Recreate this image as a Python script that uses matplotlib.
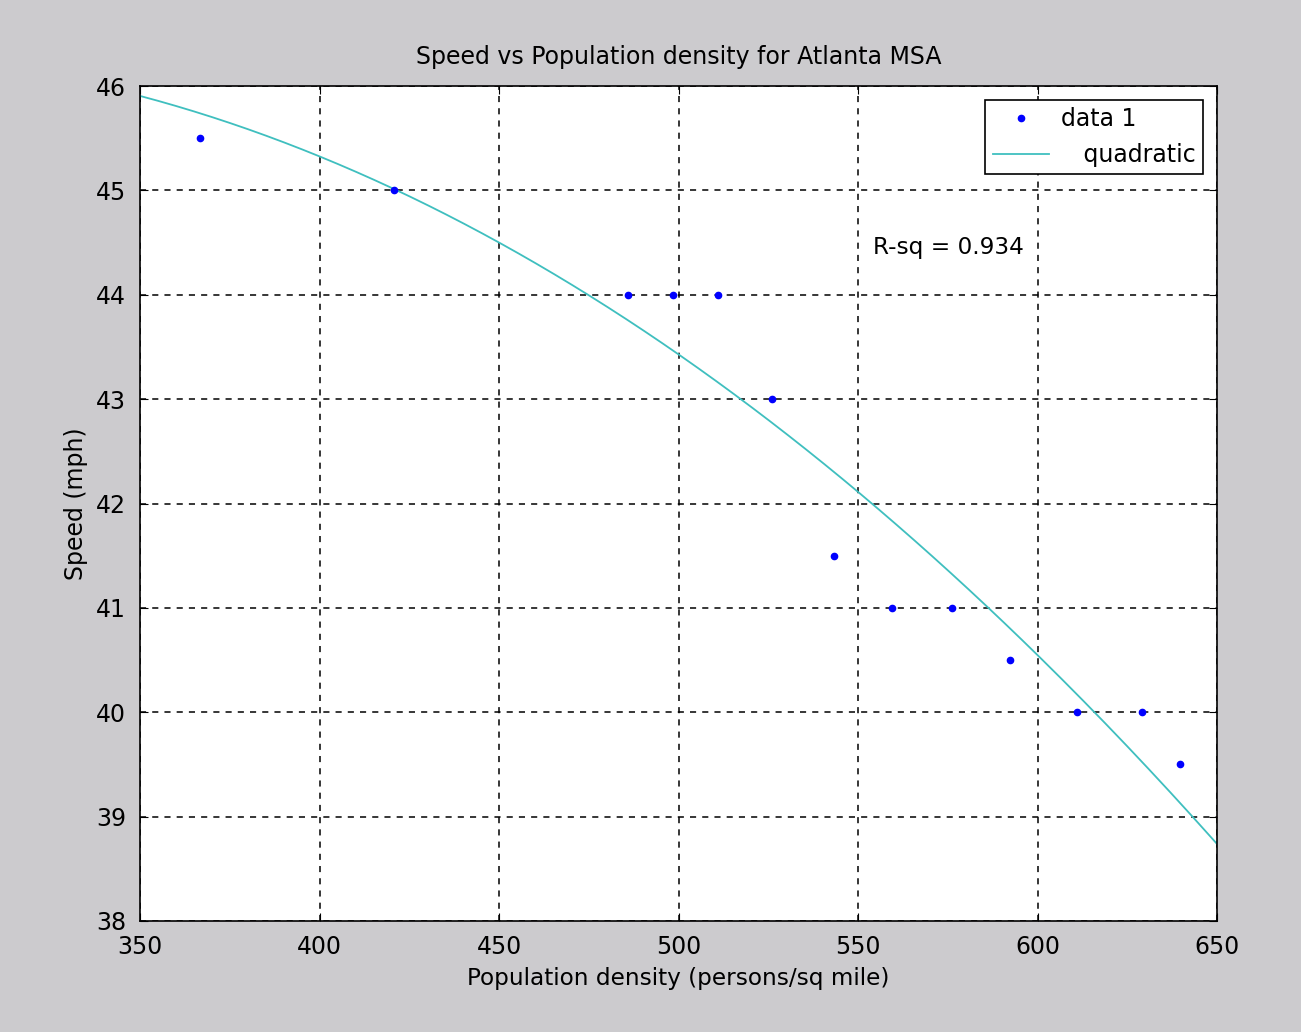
import numpy as np
import matplotlib
matplotlib.use('Agg')
from matplotlib import pyplot as plt

# data
density = [366.7, 420.8, 485.9, 498.5, 511.0, 526.0, 543.3, 559.5, 576.2, 592.3, 611.0, 629.0, 639.7]
speed = [45.5, 45.0, 44.0, 44.0, 44.0, 43.0, 41.5, 41.0, 41.0, 40.5, 40.0, 40.0, 39.5]

xticks = [350, 400, 450, 500, 550, 600, 650]
yticks = [38, 39, 40, 41, 42, 43, 44, 45, 46]

plt.rcParams['font.family'] = ['DejaVu Sans']

fig = plt.figure(figsize=(13.01, 10.32), dpi=100, facecolor='#cccbce')
ax = fig.add_axes([140/1301, 1 - 921/1032, (1217-140)/1301, (921-86)/1032])

# quadratic fit of the points
coef = np.polyfit(density, speed, 2)
xx = np.linspace(350, 650, 300)
ax.plot(density, speed, '.', color='#0000ff', markersize=9, label='data 1', zorder=3)
ax.plot(xx, np.polyval(coef, xx), color='#3fbfbf', lw=1.3, label='   quadratic', zorder=2)

ax.set_xlim(350, 650)
ax.set_ylim(38, 46)
ax.set_xticks(xticks)
ax.set_yticks(yticks)
ax.grid(True, color='black', linestyle=(0, (4, 4)), linewidth=1.1)
ax.tick_params(direction='in', top=True, right=True, labelsize=17, length=6, pad=10)
for s in ax.spines.values():
    s.set_linewidth(1.2)

ax.set_title('Speed vs Population density for Atlanta MSA', fontsize=17, pad=16)
ax.set_xlabel('Population density (persons/sq mile)', fontsize=16.7, labelpad=6)
ax.set_ylabel('Speed (mph)', fontsize=17, labelpad=6)
ax.text(0.681, 0.806, 'R-sq = 0.934', transform=ax.transAxes, fontsize=16.7, va='center')

leg = ax.legend(loc='upper right', fontsize=17, fancybox=False, edgecolor='black',
                framealpha=1, borderaxespad=0.6, handlelength=2.4, borderpad=0.3,
                handletextpad=0.5)
leg.get_frame().set_linewidth(1.2)

fig.savefig('out.png', dpi=100, facecolor=fig.get_facecolor())
